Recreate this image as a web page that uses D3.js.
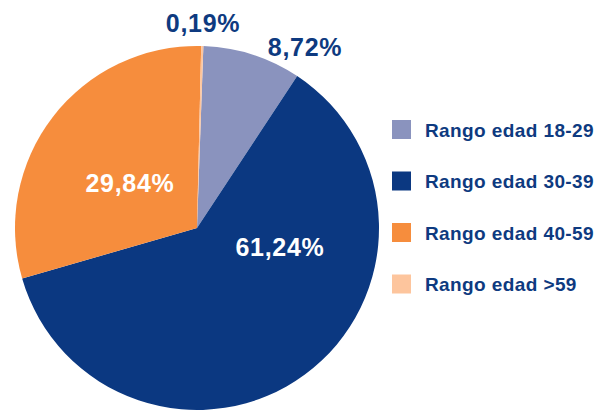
<!DOCTYPE html>
<html>
<head>
<meta charset="utf-8">
<script src="https://cdn.jsdelivr.net/npm/d3@7"></script>
<style>
  html, body { margin: 0; padding: 0; background: #ffffff; }
  svg { display: block; }
  text { font-family: "Liberation Sans", Arial, Helvetica, sans-serif; font-weight: bold; }
</style>
</head>
<body>
<svg id="chart" width="600" height="411"></svg>
<script>
// Age ranges and their share (%)
const categories = ["Rango edad 18-29", "Rango edad 30-39", "Rango edad 40-59", "Rango edad >59"];
const values = [8.72, 61.24, 29.84, 0.19];
const valueLabels = ["8,72%", "61,24%", "29,84%", "0,19%"];
const colors = ["#8a93be", "#0b3881", "#f68d3d", "#fdc59d"];
const labelColors = ["#0e3a80", "#ffffff", "#ffffff", "#0e3a80"];
// label anchor offsets from the pie centre (x, baseline y)
const labelOffsets = [[108, -172], [83, 28], [-67, -36], [6, -196]];

const svg = d3.select("#chart");
const cx = 197, cy = 228, radius = 182;
const start = 0.035;

const pie = d3.pie().sort(null).value(d => d)
  .startAngle(start).endAngle(start + 2 * Math.PI);
const arc = d3.arc().innerRadius(0).outerRadius(radius);

const g = svg.append("g").attr("transform", `translate(${cx},${cy})`);

g.selectAll("path.slice")
  .data(pie(values))
  .join("path")
  .attr("class", "slice")
  .attr("d", arc)
  .attr("fill", (d, i) => colors[i]);

g.selectAll("text.value")
  .data(pie(values))
  .join("text")
  .attr("class", "value")
  .attr("x", (d, i) => labelOffsets[i][0])
  .attr("y", (d, i) => labelOffsets[i][1])
  .attr("text-anchor", "middle")
  .attr("font-size", 25)
  .attr("letter-spacing", 0.7)
  .attr("fill", (d, i) => labelColors[i])
  .text((d, i) => valueLabels[i]);

// Legend
const legendY = d3.scalePoint().domain(categories).range([129.5, 284]);
const legend = svg.append("g");
const item = legend.selectAll("g")
  .data(categories)
  .join("g")
  .attr("transform", d => `translate(0,${legendY(d)})`);

item.append("rect")
  .attr("x", 392).attr("y", -9.5)
  .attr("width", 19).attr("height", 19)
  .attr("fill", (d, i) => colors[i]);

item.append("text")
  .attr("x", 425).attr("y", 7)
  .attr("font-size", 19)
  .attr("letter-spacing", 0.4)
  .attr("fill", "#0e3a80")
  .text(d => d);
</script>
</body>
</html>
